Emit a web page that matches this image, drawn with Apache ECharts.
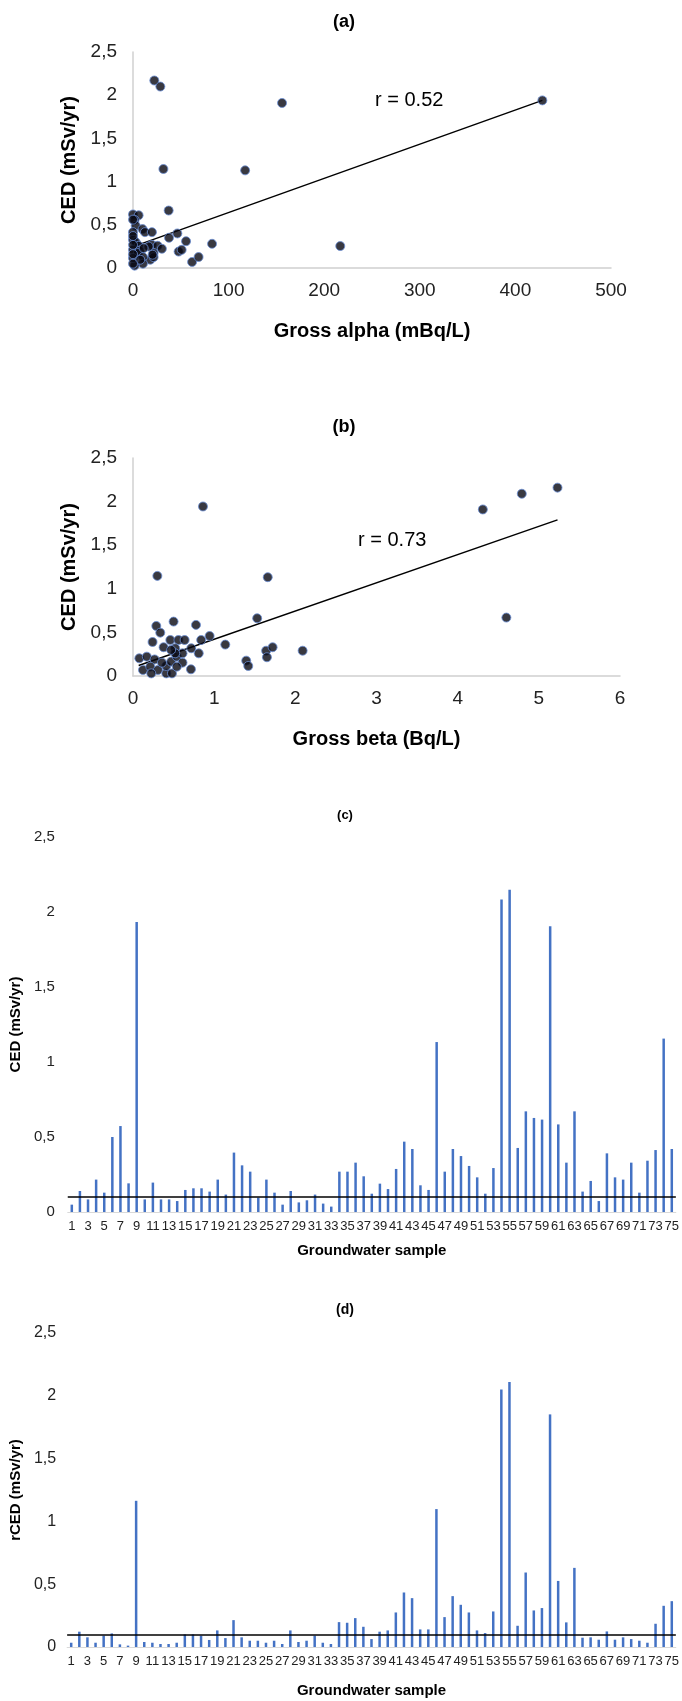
<!DOCTYPE html>
<html>
<head>
<meta charset="utf-8">
<title>CED vs gross alpha / gross beta</title>
<script src="https://cdn.jsdelivr.net/npm/echarts@6/dist/echarts.min.js"></script>
<style>
  html, body { margin: 0; padding: 0; background: #fff; }
  #chart { width: 682px; height: 1701px; }
</style>
</head>
<body>
<div id="chart"></div>
<script>
// (a) gross alpha (mBq/L) against CED (mSv/yr)
const alphaPoints = [
  [22.3, 2.17], [28.6, 2.10], [155.9, 1.91], [428.2, 1.94], [31.8, 1.146], [117.3, 1.13],
  [37.3, 0.665], [216.8, 0.254], [82.7, 0.28], [55.5, 0.31], [46.4, 0.40], [37.7, 0.35],
  [47.7, 0.19], [50.9, 0.21], [61.8, 0.07], [68.6, 0.127],
  [0, 0.62], [5.9, 0.61], [1.7, 0.557], [2.8, 0.49], [0, 0.415], [10, 0.45], [12.5, 0.415],
  [19.8, 0.415], [0, 0.326], [2.8, 0.30], [5.9, 0.257], [0, 0.211], [6.9, 0.2], [5.2, 0.173],
  [19.8, 0.268], [25.7, 0.257], [30.2, 0.223], [21.6, 0.173], [18.1, 0.096], [10.4, 0.126],
  [10.4, 0.05], [1.7, 0.027], [0, 0.115], [7.6, 0.096], [21.6, 0.126], [16.4, 0.249],
  [11.1, 0.23], [0, 0.268], [0, 0.05], [0, 0.16], [0, 0.37], [0, 0.56], [20.5, 0.154]
];
const alphaTrend = [[1, 0.25], [428.2, 1.94]];
const alphaR = 'r = 0.52';

// (b) gross beta (Bq/L) against CED (mSv/yr)
const betaPoints = [
  [0.862, 1.944], [4.31, 1.91], [4.79, 2.09], [5.23, 2.16], [4.60, 0.67], [0.30, 1.148],
  [1.66, 1.133], [1.53, 0.662], [0.50, 0.624], [0.287, 0.574], [0.776, 0.586], [0.336, 0.497],
  [0.944, 0.459], [0.241, 0.39], [0.46, 0.413], [0.56, 0.413], [0.636, 0.413], [0.84, 0.413],
  [1.137, 0.36], [0.377, 0.33], [0.52, 0.318], [0.718, 0.318], [0.81, 0.26], [1.64, 0.29],
  [1.72, 0.33], [2.09, 0.29], [1.65, 0.215], [1.395, 0.176], [1.42, 0.115], [0.714, 0.077],
  [0.078, 0.203], [0.17, 0.222], [0.266, 0.19], [0.123, 0.069], [0.213, 0.107], [0.307, 0.069],
  [0.225, 0.03], [0.41, 0.03], [0.48, 0.03], [0.41, 0.115], [0.47, 0.165], [0.54, 0.222],
  [0.61, 0.26], [0.52, 0.26], [0.47, 0.299], [0.61, 0.153], [0.54, 0.107], [0.357, 0.153]
];
const betaTrend = [[0.07, 0.12], [5.23, 1.79]];
const betaR = 'r = 0.73';

// (c) and (d) per groundwater sample
const samples = ['1','2','3','4','5','6','7','8','9','10','11','12','13','14','15','16','17','18','19','20',
  '21','22','23','24','25','26','27','28','29','30','31','32','33','34','35','36','37','38','39','40',
  '41','42','43','44','45','46','47','48','49','50','51','52','53','54','55','56','57','58','59','60',
  '61','62','63','64','65','66','67','68','69','70','71','72','73','74','75'];
const cedValues = [
  0.049, 0.14, 0.084, 0.216, 0.129, 0.5, 0.573, 0.191, 1.933, 0.084,
  0.196, 0.084, 0.084, 0.073, 0.147, 0.158, 0.158, 0.136, 0.216, 0.116,
  0.396, 0.311, 0.269, 0.096, 0.216, 0.129, 0.049, 0.14, 0.064, 0.078,
  0.116, 0.056, 0.036, 0.269, 0.269, 0.329, 0.238, 0.122, 0.189, 0.153,
  0.287, 0.469, 0.42, 0.178, 0.147, 1.133, 0.269, 0.42, 0.373, 0.307,
  0.231, 0.122, 0.293, 2.083, 2.149, 0.427, 0.671, 0.627, 0.616, 1.905,
  0.584, 0.329, 0.671, 0.136, 0.207, 0.073, 0.391, 0.231, 0.216, 0.329,
  0.129, 0.342, 0.413, 1.156, 0.42
];
const rcedValues = [
  0.034, 0.122, 0.077, 0.034, 0.09, 0.108, 0.021, 0.011, 1.164, 0.04,
  0.034, 0.024, 0.024, 0.034, 0.1, 0.1, 0.09, 0.056, 0.132, 0.071,
  0.214, 0.077, 0.05, 0.05, 0.034, 0.05, 0.024, 0.132, 0.04, 0.05,
  0.09, 0.034, 0.024, 0.198, 0.193, 0.23, 0.161, 0.063, 0.122, 0.132,
  0.275, 0.434, 0.389, 0.14, 0.14, 1.098, 0.238, 0.405, 0.336, 0.275,
  0.132, 0.111, 0.283, 2.05, 2.11, 0.169, 0.593, 0.291, 0.31, 1.852,
  0.526, 0.196, 0.63, 0.074, 0.077, 0.058, 0.124, 0.058, 0.077, 0.063,
  0.05, 0.034, 0.185, 0.328, 0.365
];
const refLevel = 0.1;

const yTickLabels = ['0', '0,5', '1', '1,5', '2', '2,5'];

const FONT = "'Liberation Sans', Arial, Helvetica, sans-serif";
const tickFmt = v => yTickLabels[Math.round(v / 0.5)];

function label(text, x, y, size, bold, align) {
  return {
    type: 'text', x: x, y: y, silent: true,
    style: {
      text: text, fill: '#000',
      font: (bold ? 'bold ' : '') + size + 'px ' + FONT,
      align: align || 'center', verticalAlign: 'middle',
      textAlign: align || 'center', textVerticalAlign: 'middle'
    }
  };
}

function scatterAxes(idx, xMax, xInterval, xName) {
  const axisLine = { show: true, onZero: false, lineStyle: { color: '#d0d0d0', width: 1.5 } };
  return {
    x: {
      gridIndex: idx, type: 'value', min: 0, max: xMax, interval: xInterval,
      axisLine: axisLine, axisTick: { show: false }, splitLine: { show: false },
      axisLabel: { fontSize: 19, color: '#222', margin: 13, fontFamily: FONT },
      name: xName, nameLocation: 'middle', nameGap: 53,
      nameTextStyle: { fontSize: 20, fontWeight: 'bold', color: '#000', fontFamily: FONT }
    },
    y: {
      gridIndex: idx, type: 'value', min: 0, max: 2.5, interval: 0.5,
      axisLine: axisLine, axisTick: { show: false }, splitLine: { show: false },
      axisLabel: { fontSize: 19, color: '#222', margin: 16, formatter: tickFmt, fontFamily: FONT },
      name: 'CED (mSv/yr)', nameLocation: 'middle', nameGap: 51, nameRotate: 90,
      nameTextStyle: { fontSize: 20, fontWeight: 'bold', color: '#000', fontFamily: FONT }
    }
  };
}

function barAxes(idx, yName, yLabelSize, xNameGap, yNameGap, yMargin) {
  return {
    x: {
      gridIndex: idx, type: 'category', data: samples,
      axisLine: { show: true, lineStyle: { color: '#d9d9d9', width: 1 } },
      axisTick: { show: false },
      axisLabel: { interval: 1, fontSize: 13, color: '#222', margin: 8, fontFamily: FONT, hideOverlap: false },
      name: 'Groundwater sample', nameLocation: 'middle', nameGap: xNameGap,
      nameTextStyle: { fontSize: 15, fontWeight: 'bold', color: '#000', fontFamily: FONT }
    },
    y: {
      gridIndex: idx, type: 'value', min: 0, max: 2.5, interval: 0.5,
      axisLine: { show: false }, axisTick: { show: false }, splitLine: { show: false },
      axisLabel: { fontSize: yLabelSize, color: '#222', margin: yMargin, formatter: tickFmt, fontFamily: FONT },
      name: yName, nameLocation: 'middle', nameGap: yNameGap, nameRotate: 90,
      nameTextStyle: { fontSize: 15, fontWeight: 'bold', color: '#000', fontFamily: FONT }
    }
  };
}

const axA = scatterAxes(0, 500, 100, 'Gross alpha (mBq/L)');
const axB = scatterAxes(1, 6, 1, 'Gross beta (Bq/L)');
const axC = barAxes(2, 'CED (mSv/yr)', 15, 31, 36, 13);
const axD = barAxes(3, 'rCED (mSv/yr)', 16, 36, 35, 11);

const dotStyle = { color: '#080812', borderColor: '#6a8fd6', borderWidth: 1 };
const refLine = {
  silent: true, symbol: 'none', label: { show: false },
  lineStyle: { color: '#000', width: 1.5, type: 'solid' },
  data: [{ yAxis: refLevel }]
};

const chart = echarts.init(document.getElementById('chart'));
chart.setOption({
  backgroundColor: '#fff',
  animation: false,
  textStyle: { fontFamily: FONT },
  grid: [
    { left: 133, top: 52, width: 478, height: 216 },
    { left: 133, top: 458, width: 487, height: 218 },
    { left: 65.5, top: 837, width: 610.5, height: 375 },
    { left: 65.5, top: 1333, width: 610.5, height: 314 }
  ],
  xAxis: [axA.x, axB.x, axC.x, axD.x],
  yAxis: [axA.y, axB.y, axC.y, axD.y],
  graphic: [
    label('(a)', 344, 22, 18, true),
    label('(b)', 344, 427, 18, true),
    label('(c)', 345, 815, 13, true),
    label('(d)', 345, 1310, 14, true),
    label(alphaR, 375, 100, 20, false, 'left'),
    label(betaR, 358, 540, 20, false, 'left')
  ],
  series: [
    { type: 'line', xAxisIndex: 0, yAxisIndex: 0, data: alphaTrend, symbol: 'none',
      lineStyle: { color: '#000', width: 1.5 }, z: 1 },
    { type: 'scatter', xAxisIndex: 0, yAxisIndex: 0, data: alphaPoints, symbolSize: 9,
      itemStyle: dotStyle, z: 2 },
    { type: 'line', xAxisIndex: 1, yAxisIndex: 1, data: betaTrend, symbol: 'none',
      lineStyle: { color: '#000', width: 1.5 }, z: 1 },
    { type: 'scatter', xAxisIndex: 1, yAxisIndex: 1, data: betaPoints, symbolSize: 9,
      itemStyle: dotStyle, z: 2 },
    { type: 'bar', xAxisIndex: 2, yAxisIndex: 2, data: cedValues, barWidth: 2.5,
      itemStyle: { color: '#4472c4' }, markLine: refLine },
    { type: 'bar', xAxisIndex: 3, yAxisIndex: 3, data: rcedValues, barWidth: 2.5,
      itemStyle: { color: '#4472c4' }, markLine: refLine }
  ]
});
</script>
</body>
</html>
